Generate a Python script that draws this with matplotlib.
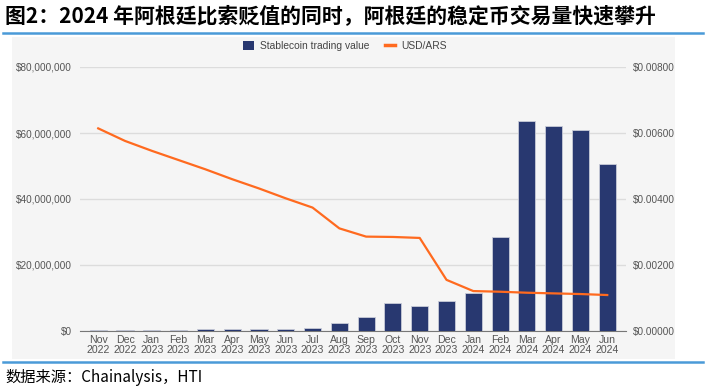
import numpy as np
import matplotlib
matplotlib.use("Agg")
import matplotlib.pyplot as plt
from matplotlib.patches import Rectangle, Patch
from matplotlib.lines import Line2D
from matplotlib.ticker import FuncFormatter

months = ["Nov\n2022", "Dec\n2022", "Jan\n2023", "Feb\n2023", "Mar\n2023", "Apr\n2023",
          "May\n2023", "Jun\n2023", "Jul\n2023", "Aug\n2023", "Sep\n2023", "Oct\n2023",
          "Nov\n2023", "Dec\n2023", "Jan\n2024", "Feb\n2024", "Mar\n2024", "Apr\n2024",
          "May\n2024", "Jun\n2024"]
# stablecoin trading value, USD
trading_value = [0.3e6, 0.4e6, 0.3e6, 0.3e6, 0.6e6, 0.6e6, 0.6e6, 0.6e6, 0.8e6, 2.3e6,
                 4.3e6, 8.6e6, 7.6e6, 9.2e6, 11.6e6, 28.6e6, 63.7e6, 62.2e6, 60.8e6, 50.7e6]
# USD per ARS
usd_ars = [0.00614, 0.00576, 0.00546, 0.00518, 0.00490, 0.00460, 0.00432, 0.00402,
           0.00374, 0.00311, 0.00286, 0.00285, 0.00282, 0.00155, 0.00121, 0.00119,
           0.00116, 0.00114, 0.00112, 0.00109]

title = "图2：2024 年阿根廷比索贬值的同时，阿根廷的稳定币交易量快速攀升"
source = "数据来源：Chainalysis，HTI"

W, H = 706, 391
fig = plt.figure(figsize=(W / 100, H / 100), dpi=100)
fig.patch.set_facecolor("white")

# grey chart panel and blue rules
fig.add_artist(Rectangle((12 / W, 1 - 359 / H), (675 - 12) / W, (359 - 37) / H,
                         transform=fig.transFigure, facecolor="#f5f5f5", edgecolor="none", zorder=0))
fig.add_artist(Line2D([3 / W, 703 / W], [1 - 33 / H] * 2, color="#4a9ad8", lw=1.8))
fig.add_artist(Line2D([3 / W, 703 / W], [1 - 362 / H] * 2, color="#4a9ad8", lw=1.8))

fig.text(5 / W, 1 - 16 / H, title, fontsize=15, fontweight="bold", va="center", ha="left",
         family=["Noto Sans CJK SC", "DejaVu Sans"])
fig.text(5 / W, 1 - 378 / H, source, fontsize=11, va="center", ha="left",
         family=["Noto Sans CJK SC", "DejaVu Sans"])

ax = fig.add_axes([80 / W, 1 - 331 / H, (626 - 80) / W, (331 - 67) / H])
ax.set_facecolor("none")
x = np.arange(len(months))
ax.bar(x, trading_value, width=0.64, color="#283870", edgecolor="#c8cbd8", linewidth=0.6, zorder=3)
ax.set_xlim(-0.68, len(months) - 0.3)
ax.set_ylim(0, 80e6)
ax.set_yticks(np.arange(0, 80e6 + 1, 20e6))
ax.yaxis.set_major_formatter(FuncFormatter(lambda v, p: "${:,.0f}".format(v)))
ax.grid(axis="y", color="#dcdcdc", lw=1, zorder=0)
ax.set_xticks(x)
ax.set_xticklabels(months, fontsize=7.6, color="#555555", linespacing=1.0, family="Liberation Sans")
for s in ["top", "right", "left"]:
    ax.spines[s].set_visible(False)
ax.spines["bottom"].set_color("#777777")
ax.tick_params(axis="x", length=0, pad=3)
ax.tick_params(axis="y", length=0, pad=6, labelsize=7.2, labelcolor="#555555")
for lab in ax.get_yticklabels():
    lab.set_family("Liberation Sans")

ax2 = ax.twinx()
ax2.plot(x, usd_ars, color="#ff6a1f", lw=1.6, zorder=4)
ax2.set_ylim(0, 0.008)
ax2.set_yticks(np.arange(0, 0.0081, 0.002))
ax2.yaxis.set_major_formatter(FuncFormatter(lambda v, p: "${:.5f}".format(v)))
for s in ["top", "right", "left", "bottom"]:
    ax2.spines[s].set_visible(False)
ax2.tick_params(axis="y", length=0, pad=5, labelsize=7.2, labelcolor="#555555")
for lab in ax2.get_yticklabels():
    lab.set_family("Liberation Sans")

handles = [Patch(facecolor="#283870", edgecolor="none"),
           Line2D([0], [0], color="#ff6a1f", lw=2.5)]
fig.legend(handles, ["Stablecoin trading value", "USD/ARS"], loc="center",
           bbox_to_anchor=(345 / W, 1 - 46 / H), ncol=2, frameon=False,
           prop={"family": "Liberation Sans", "size": 7.4}, labelcolor="#444444",
           handlelength=1.0, handleheight=1.0, handletextpad=0.6, columnspacing=1.5)

fig.savefig("out.png", dpi=100)
